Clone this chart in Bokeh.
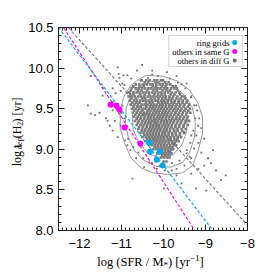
import numpy as np
from bokeh.plotting import figure
from bokeh.layouts import row, column
from bokeh.models import Range1d, LinearAxis, FixedTicker, Label, BoxAnnotation
from bokeh.embed import file_html
from bokeh.resources import INLINE

# ---------------- data ----------------
XMIN, XMAX = -12.5, -8.0
YMIN, YMAX = 8.0, 10.5

x_major = [-12, -11, -10, -9, -8]
x_labels = ["\u221212", "\u221211", "\u221210", "\u22129", "\u22128"]
y_major = [8.0, 8.5, 9.0, 9.5, 10.0, 10.5]
y_labels = ["8.0", "8.5", "9.0", "9.5", "10.0", "10.5"]

legend_names = ["ring grids", "others in same G", "others in diff G"]

# ring grids (cyan)
ring_x = [-10.34, -10.32, -10.09, -10.16, -10.02]
ring_y = [9.08, 8.97, 8.97, 8.87, 8.80]
# others in same galaxy (magenta)
same_x = [-11.26, -11.12, -11.05, -10.93, -10.55]
same_y = [9.55, 9.54, 9.49, 9.27, 9.07]

# dashed fits: slope, intercept
fit_slope = {"ring": -0.68, "same": -0.80, "diff": -0.57}
fit_icpt = {"ring": 2.00, "same": 0.596, "diff": 3.506}

# others in different galaxies: dense core, rows (y: list of x)
core_rows = {
    9.85: [-10.52, -10.41, -10.33, -10.22, -10.15, -10.06, -10.01],
    9.825: [-10.45, -10.36, -10.19, -10.12, -9.96, -9.88],
    9.80: [-10.66, -10.58, -10.47, -10.40, -10.31, -10.26, -10.17, -10.09, -10.02, -9.93, -9.84],
    9.775: [-10.72, -10.55, -10.47, -10.26, -10.18, -10.04, -9.95, -9.78, -9.71],
    9.75: [-10.76, -10.66, -10.59, -10.51, -10.44, -10.36, -10.30, -10.21, -10.14, -10.07, -9.98, -9.91, -9.82, -9.74, -9.68],
    9.725: [-10.78, -10.61, -10.53, -10.39, -10.24, -10.16, -10.02, -9.93, -9.85, -9.66],
    9.70: [-10.81, -10.72, -10.64, -10.57, -10.49, -10.42, -10.35, -10.27, -10.20, -10.12, -10.05, -9.97, -9.89, -9.80, -9.71, -9.62],
    9.675: [-10.79, -10.71, -10.56, -10.45, -10.34, -10.22, -10.13, -10.05, -9.97, -9.83, -9.74, -9.60],
    9.65: [-10.83, -10.75, -10.68, -10.60, -10.53, -10.46, -10.38, -10.31, -10.24, -10.16, -10.09, -10.01, -9.94, -9.86, -9.77, -9.67, -9.56, -9.50],
    9.625: [-10.77, -10.66, -10.51, -10.44, -10.30, -10.21, -10.12, -10.03, -9.95, -9.86, -9.79, -9.69, -9.59, -9.49],
    9.60: [-10.80, -10.70, -10.63, -10.55, -10.48, -10.41, -10.34, -10.27, -10.19, -10.13, -10.05, -9.98, -9.90, -9.82, -9.73, -9.64, -9.54, -9.44],
    9.575: [-10.74, -10.65, -10.57, -10.42, -10.33, -10.26, -10.12, -10.04, -9.97, -9.90, -9.81, -9.74, -9.64, -9.55, -9.45],
    9.55: [-10.78, -10.69, -10.61, -10.52, -10.45, -10.38, -10.30, -10.23, -10.16, -10.08, -10.02, -9.94, -9.86, -9.78, -9.69, -9.60, -9.50, -9.39],
    9.525: [-10.72, -10.62, -10.54, -10.41, -10.32, -10.25, -10.18, -10.10, -10.03, -9.95, -9.87, -9.80, -9.71, -9.62, -9.52, -9.42],
    9.50: [-10.75, -10.66, -10.58, -10.50, -10.43, -10.35, -10.28, -10.21, -10.13, -10.06, -9.99, -9.91, -9.83, -9.75, -9.66, -9.57, -9.47, -9.37],
    9.475: [-10.70, -10.61, -10.52, -10.38, -10.31, -10.23, -10.16, -10.09, -10.01, -9.94, -9.86, -9.77, -9.69, -9.60, -9.51, -9.41],
    9.45: [-10.73, -10.64, -10.55, -10.47, -10.40, -10.33, -10.25, -10.18, -10.11, -10.03, -9.96, -9.89, -9.81, -9.72, -9.63, -9.54, -9.44, -9.36],
    9.425: [-10.67, -10.58, -10.49, -10.43, -10.34, -10.27, -10.20, -10.12, -10.05, -9.98, -9.91, -9.83, -9.74, -9.65, -9.56, -9.46],
    9.40: [-10.70, -10.61, -10.53, -10.45, -10.37, -10.30, -10.23, -10.15, -10.08, -10.01, -9.93, -9.86, -9.78, -9.69, -9.60, -9.51, -9.42],
    9.375: [-10.64, -10.55, -10.46, -10.38, -10.31, -10.23, -10.17, -10.10, -10.03, -9.95, -9.87, -9.79, -9.71, -9.62, -9.53, -9.44],
    9.35: [-10.68, -10.59, -10.50, -10.42, -10.34, -10.27, -10.20, -10.13, -10.05, -9.98, -9.91, -9.83, -9.75, -9.66, -9.57, -9.47, -9.39],
    9.325: [-10.61, -10.52, -10.44, -10.36, -10.29, -10.21, -10.15, -10.07, -9.99, -9.92, -9.85, -9.77, -9.68, -9.59, -9.49],
    9.30: [-10.64, -10.55, -10.47, -10.39, -10.31, -10.24, -10.17, -10.10, -10.02, -9.95, -9.88, -9.80, -9.71, -9.62, -9.52, -9.42],
    9.275: [-10.58, -10.49, -10.40, -10.32, -10.25, -10.18, -10.11, -10.04, -9.96, -9.89, -9.81, -9.72, -9.63, -9.53],
    9.25: [-10.60, -10.51, -10.43, -10.35, -10.28, -10.21, -10.14, -10.07, -9.99, -9.92, -9.84, -9.76, -9.67, -9.57, -9.47],
    9.225: [-10.52, -10.44, -10.36, -10.29, -10.22, -10.15, -10.08, -10.00, -9.93, -9.85, -9.75, -9.66, -9.55],
    9.20: [-10.55, -10.47, -10.39, -10.32, -10.25, -10.18, -10.11, -10.03, -9.96, -9.88, -9.80, -9.71, -9.61, -9.51],
    9.175: [-10.46, -10.38, -10.31, -10.24, -10.17, -10.10, -10.03, -9.96, -9.88, -9.79, -9.70, -9.61],
    9.15: [-10.50, -10.42, -10.35, -10.28, -10.21, -10.14, -10.07, -10.00, -9.92, -9.84, -9.75, -9.66, -9.58],
    9.125: [-10.39, -10.32, -10.25, -10.19, -10.12, -10.05, -9.98, -9.90, -9.83, -9.74, -9.67],
    9.10: [-10.43, -10.36, -10.29, -10.22, -10.16, -10.09, -10.02, -9.95, -9.87, -9.79, -9.71, -9.64],
    9.075: [-10.31, -10.24, -10.17, -10.10, -10.03, -9.96, -9.88, -9.80, -9.73],
    9.05: [-10.34, -10.27, -10.20, -10.13, -10.06, -9.99, -9.92, -9.84, -9.76, -9.70],
    9.025: [-10.21, -10.14, -10.07, -10.00, -9.93, -9.86, -9.79],
    9.00: [-10.24, -10.17, -10.10, -10.03, -9.96, -9.89, -9.82, -9.77],
    8.975: [-10.12, -10.04, -9.97, -9.90, -9.84],
    8.95: [-10.15, -10.07, -10.00, -9.93, -9.86, -9.81],
    8.925: [-10.03, -9.96, -9.89],
    8.90: [-10.06, -9.99, -9.92, -9.86],
    8.85: [-10.00, -9.93],
}

# others in different galaxies: halo and sparse outskirts
out_x = [-11.73, -11.45, -11.80, -11.73, -11.21, -11.33, -11.21, -10.98, -10.86, -11.09,
         -10.51, -11.07, -10.95, -10.86, -11.05, -10.77, -11.14, -11.02, -11.21, -9.34,
         -9.50, -9.34, -9.17, -9.03, -9.27, -9.10, -9.34, -8.94, -9.50, -9.17,
         -9.03, -9.45, -8.87, -8.63, -9.57, -9.22, -9.99, -10.46, -8.98, -10.74,
         -11.09, -11.63, -11.52, -11.37, -11.16, -11.28, -11.21, -10.93, -11.45, -10.63,
         -10.27, -9.92, -9.69, -9.45, -9.22, -9.15, -9.10, -9.80, -9.69, -10.16,
         -10.27, -9.34, -8.82, -8.75, -8.52, -9.22, -10.91, -10.79, -11.02,
         -10.98, -10.93, -10.88, -10.84, -10.72, -10.60, -10.48, -10.34, -10.09, -9.80,
         -9.62, -9.45, -9.36, -9.29, -9.24, -9.27, -9.34, -9.48, -9.66, -9.85,
         -10.13, -10.37, -10.55, -10.72, -10.84, -11.00, -10.86, -10.65, -9.97, -9.69,
         -9.38, -9.17, -9.20, -9.57, -10.27, -10.72]
out_y = [9.90, 9.76, 9.54, 9.44, 9.58, 9.35, 9.23, 9.81, 9.69, 10.01,
         10.04, 9.93, 9.91, 9.91, 9.88, 9.87, 9.69, 9.72, 9.48, 9.64,
         9.21, 9.17, 9.08, 9.13, 9.01, 8.96, 8.89, 8.89, 8.80, 8.76,
         8.80, 8.95, 8.83, 8.62, 8.58, 8.52, 8.52, 8.78, 8.49, 8.64,
         9.15, 9.42, 9.45, 9.38, 9.35, 9.29, 9.75, 9.79, 9.66, 9.97,
         9.97, 9.95, 9.90, 9.81, 9.54, 9.38, 9.26, 8.74, 8.68, 8.76,
         8.83, 8.70, 8.99, 8.74, 8.68, 9.17, 9.11, 8.99, 9.29,
         9.54, 9.38, 9.26, 9.13, 9.03, 8.96, 8.89, 8.84, 8.80, 8.83,
         8.86, 8.99, 9.08, 9.23, 9.38, 9.54, 9.65, 9.75, 9.82, 9.87,
         9.90, 9.88, 9.85, 9.77, 9.70, 9.45, 9.05, 8.89, 8.74, 8.76,
         8.91, 9.29, 9.48, 9.80, 9.92, 9.70]

# density contours (closed polylines)
contour_x = [
    [-10.41, -10.01, -9.66, -9.38, -9.19, -9.07, -9.07, -9.17, -9.31, -9.54, -9.90, -10.25, -10.53, -10.77, -10.93, -11.03, -11.03, -10.96, -10.79, -10.60, -10.41],
    [-10.37, -10.01, -9.71, -9.47, -9.31, -9.24, -9.26, -9.38, -9.54, -9.83, -10.18, -10.49, -10.70, -10.84, -10.91, -10.89, -10.77, -10.58, -10.37],
    [-10.30, -9.97, -9.71, -9.52, -9.43, -9.45, -9.57, -9.78, -10.09, -10.37, -10.58, -10.72, -10.74, -10.67, -10.51, -10.30],
    [-10.20, -9.92, -9.73, -9.66, -9.71, -9.87, -10.13, -10.37, -10.51, -10.53, -10.44, -10.20],
]
contour_y = [
    [9.91, 9.90, 9.84, 9.73, 9.58, 9.40, 9.20, 8.99, 8.80, 8.71, 8.69, 8.71, 8.77, 8.89, 9.08, 9.26, 9.44, 9.63, 9.78, 9.86, 9.91],
    [9.84, 9.83, 9.76, 9.65, 9.51, 9.33, 9.15, 8.96, 8.84, 8.78, 8.79, 8.87, 8.99, 9.15, 9.32, 9.51, 9.67, 9.78, 9.84],
    [9.75, 9.74, 9.67, 9.54, 9.38, 9.21, 9.05, 8.93, 8.89, 8.95, 9.08, 9.24, 9.41, 9.58, 9.69, 9.75],
    [9.65, 9.63, 9.53, 9.38, 9.22, 9.10, 9.06, 9.12, 9.26, 9.42, 9.57, 9.65],
]

CYAN = "#00a8f0"
MAGENTA = "#ff00ff"
GRAY = "#6e6e6e"
SERIF = "Liberation Serif"

# ---------------- layout sizes (px) ----------------
W, H = 274, 274
YT_W = 25          # strip for the y title
MAIN_H = 253       # main figure height
XT_H = H - MAIN_H  # strip for the x title

# ---------------- main figure ----------------
p = figure(width=W - YT_W, height=MAIN_H, output_backend="svg", toolbar_location=None,
           x_range=Range1d(XMIN, XMAX), y_range=Range1d(YMIN, YMAX),
           min_border_left=55 - YT_W, min_border_right=27, min_border_top=27,
           min_border_bottom=MAIN_H - 230,
           x_axis_type=None, y_axis_type=None)
p.xgrid.visible = False
p.ygrid.visible = False
p.outline_line_color = "#222222"
p.background_fill_color = "white"
p.border_fill_color = "white"

x_minor = [round(v, 1) for v in np.arange(XMIN, XMAX + 0.01, 0.1)]
y_minor = [round(v, 1) for v in np.arange(YMIN, YMAX + 0.01, 0.1)]
xt = FixedTicker(ticks=x_major, minor_ticks=x_minor)
yt = FixedTicker(ticks=y_major, minor_ticks=y_minor)


def style_axis(ax, show_labels, overrides=None):
    ax.major_tick_in = 6
    ax.major_tick_out = 0
    ax.minor_tick_in = 3
    ax.minor_tick_out = 0
    ax.axis_line_color = "#222222"
    ax.major_tick_line_color = "#222222"
    ax.minor_tick_line_color = "#222222"
    if show_labels:
        ax.major_label_text_font = "Liberation Sans"
        ax.major_label_text_font_size = "13px"
        ax.major_label_text_color = "black"
        ax.major_label_overrides = overrides
    else:
        ax.major_label_text_font_size = "0px"
        ax.major_label_text_alpha = 0


xb = LinearAxis(ticker=xt)
style_axis(xb, True, {float(k): v for k, v in zip(x_major, x_labels)})
xb.major_label_standoff = 8
xt_ax = LinearAxis(ticker=xt)
style_axis(xt_ax, False)
yl = LinearAxis(ticker=yt)
style_axis(yl, True, {float(k): v for k, v in zip(y_major, y_labels)})
yl.major_label_standoff = 5
yr = LinearAxis(ticker=yt)
style_axis(yr, False)
p.add_layout(xb, "below")
p.add_layout(xt_ax, "above")
p.add_layout(yl, "left")
p.add_layout(yr, "right")

# cloud
cx, cy = [], []
for yv, xs in core_rows.items():
    cx.extend(xs)
    cy.extend([yv] * len(xs))
p.scatter(cx, cy, marker="square", size=2.6, color="#7a7a7a", line_color=None)
p.scatter(out_x, out_y, marker="square", size=1.8, color=GRAY, line_color=None)

# contours
p.multi_line(contour_x, contour_y, line_color="#8a8a8a", line_width=0.9)

# dashed fit lines over the full x range
xs_line = np.array([XMIN, XMAX])
for key, col in [("diff", "#7a7a7a"), ("same", MAGENTA), ("ring", CYAN)]:
    p.line(xs_line, fit_icpt[key] + fit_slope[key] * xs_line, line_color=col,
           line_width=1.2, line_dash="3 2")

# highlighted points
p.scatter(same_x, same_y, marker="circle", size=6, color=MAGENTA, line_color=None)
p.scatter(ring_x, ring_y, marker="circle", size=6, color=CYAN, line_color=None)

# legend (manual: text right-aligned, dot after)
px_x = 192 / (XMAX - XMIN)
px_y = 203 / (YMAX - YMIN)
box = BoxAnnotation(left=XMAX - 80 / px_x, right=XMAX - 5 / px_x,
                    top=YMAX - 8 / px_y, bottom=YMAX - 39 / px_y,
                    fill_color="white", fill_alpha=1, line_color="#707070",
                    line_width=1, level="underlay")
p.add_layout(box)
row_off = [15, 24, 33]
dot_cols = [CYAN, MAGENTA, GRAY]
dot_sizes = [5, 5, 4]
for name, off, col, sz in zip(legend_names, row_off, dot_cols, dot_sizes):
    p.add_layout(Label(x=XMAX, y=YMAX, x_offset=-18, y_offset=-off, text=name,
                       text_align="right", text_baseline="middle",
                       text_font=SERIF, text_font_size="8.5px", text_color="black"))
    p.scatter([XMAX - 13 / px_x], [YMAX - off / px_y], marker="circle", size=sz,
              color=col, line_color=None)


# ---------------- title strips ----------------
def strip(w, h):
    f = figure(width=w, height=h, output_backend="svg", toolbar_location=None,
               x_range=Range1d(0, w), y_range=Range1d(0, h), min_border=0,
               x_axis_type=None, y_axis_type=None)
    f.outline_line_color = None
    f.xgrid.visible = False
    f.ygrid.visible = False
    f.background_fill_color = "white"
    f.border_fill_color = "white"
    return f


# y title: log t_dep (H2) [yr], rotated, pieces along the text direction
yfig = strip(YT_W, MAIN_H)
y_start = MAIN_H - 173
ypieces = [("log t", "12px", 0, 0.0), ("dep", "8px", 2.5, 21.7), (" (H", "12px", 0, 35.0),
           ("2", "8px", 2.5, 50.7), (") [yr]", "12px", 0, 54.7)]
for txt, fs, dx, along in ypieces:
    yfig.add_layout(Label(x=16.5 + dx, y=y_start + along, text=txt, angle=np.pi / 2,
                          text_align="left", text_baseline="alphabetic",
                          text_font=SERIF, text_font_size=fs, text_color="black"))

# x title: log (SFR / M*) [yr^-1]
xfig = strip(W, XT_H)
x_base = H - 261.5
xpieces = [("log (SFR / M", "12.5px", 96.7, 0), ("*", "9px", 163.0, -3), (") [yr", "12.5px", 167.5, 0),
           ("\u22121", "9px", 189.4, 4.5), ("]", "12.5px", 199.0, 0)]
for txt, fs, xpos, dy in xpieces:
    xfig.add_layout(Label(x=xpos, y=x_base + dy, text=txt,
                          text_align="left", text_baseline="alphabetic",
                          text_font=SERIF, text_font_size=fs, text_color="black"))

layout = column(row(yfig, p), xfig)
open("out.html", "w").write(file_html(layout, INLINE))
